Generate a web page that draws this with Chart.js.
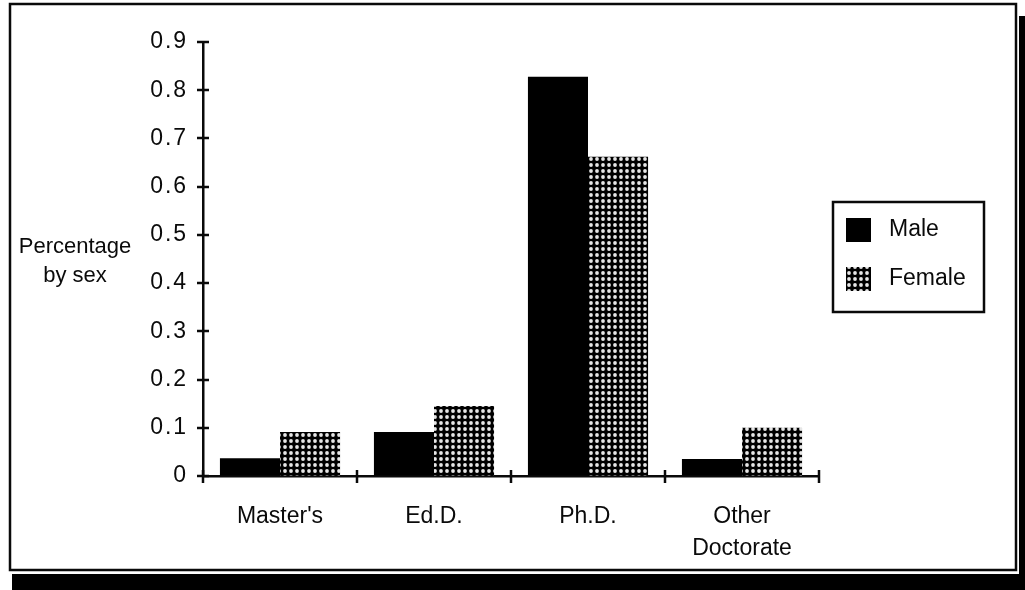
<!DOCTYPE html>
<html>
<head>
<meta charset="utf-8">
<title>Percentage by sex</title>
<script src="https://cdn.jsdelivr.net/npm/chart.js@4.4.1/dist/chart.umd.min.js"></script>
<style>
  html, body { margin: 0; padding: 0; background: #fff; }
  canvas { display: block; }
</style>
</head>
<body>
<canvas id="chart" width="1025" height="590"></canvas>
<script>
// Degree categories and share of each sex holding them
const categories = ["Master's", "Ed.D.", "Ph.D.", ["Other", "Doctorate"]];
const maleValues = [0.037, 0.091, 0.828, 0.035];
const femaleValues = [0.091, 0.145, 0.662, 0.100];
const seriesNames = ["Male", "Female"];
const yTicks = [0, 0.1, 0.2, 0.3, 0.4, 0.5, 0.6, 0.7, 0.8, 0.9];
const yTitle = ["Percentage", "by sex"];

const FONT = '"Liberation Sans", Arial, Helvetica, sans-serif';
const INK = '#0a0a0a';

// Black fill with a grid of light dots for the Female series
function dotPattern() {
  const c = document.createElement('canvas');
  c.width = 6; c.height = 6;
  const g = c.getContext('2d');
  g.fillStyle = '#000';
  g.fillRect(0, 0, 6, 6);
  g.fillStyle = '#e6e6e6';
  g.beginPath();
  g.arc(3, 3, 1.9, 0, Math.PI * 2);
  g.fill();
  return g.createPattern(c, 'repeat');
}

const ctx0 = document.getElementById('chart').getContext('2d');
const femaleFill = dotPattern();

// Frame, drop shadow, crossing tick marks, horizontal axis title and boxed legend
const decorations = {
  id: 'decorations',
  beforeDraw(chart) {
    const c = chart.ctx;
    c.save();
    c.fillStyle = '#fff';
    c.fillRect(0, 0, chart.width, chart.height);
    c.fillStyle = '#000';
    c.fillRect(12, 574, 1013, 16);
    c.fillRect(1019, 16, 6, 574);
    c.strokeStyle = INK;
    c.lineWidth = 2.5;
    c.strokeRect(10, 4, 1006, 566);
    c.restore();
  },
  afterDraw(chart) {
    const c = chart.ctx;
    const x = chart.scales.x, y = chart.scales.y;
    c.save();
    c.strokeStyle = INK;
    c.lineWidth = 2.5;
    // y-axis ticks crossing the axis line
    yTicks.forEach(v => {
      const py = Math.round(y.getPixelForValue(v));
      c.beginPath();
      c.moveTo(x.left - 6, py);
      c.lineTo(x.left + 6, py);
      c.stroke();
    });
    // x-axis ticks at category boundaries
    const n = categories.length;
    for (let i = 0; i <= n; i++) {
      const px = Math.round(x.left + i * (x.right - x.left) / n);
      c.beginPath();
      c.moveTo(px, y.bottom - 6);
      c.lineTo(px, y.bottom + 7);
      c.stroke();
    }
    // axis title, written horizontally
    c.fillStyle = INK;
    c.font = '22px ' + FONT;
    c.textAlign = 'center';
    c.textBaseline = 'alphabetic';
    c.fillText(yTitle[0], 75, 253);
    c.fillText(yTitle[1], 75, 282);
    // legend
    c.lineWidth = 2.5;
    c.strokeRect(833, 202, 151, 110);
    c.font = '23px ' + FONT;
    c.textAlign = 'left';
    c.textBaseline = 'middle';
    chart.data.datasets.forEach((ds, i) => {
      const top = 218 + i * 49;
      c.fillStyle = ds.backgroundColor;
      c.fillRect(846, top, 25, 24);
      c.fillStyle = INK;
      c.fillText(ds.label, 889, top + 12);
    });
    c.restore();
  }
};

new Chart(ctx0, {
  type: 'bar',
  data: {
    labels: categories,
    datasets: [
      { label: seriesNames[0], data: maleValues, backgroundColor: '#000' },
      { label: seriesNames[1], data: femaleValues, backgroundColor: femaleFill }
    ]
  },
  options: {
    responsive: false,
    animation: false,
    devicePixelRatio: 1,
    layout: { padding: { top: 42, right: 206, left: 0, bottom: 0 } },
    datasets: { bar: { categoryPercentage: 0.78, barPercentage: 1.0, borderWidth: 0 } },
    plugins: { legend: { display: false }, tooltip: { enabled: false } },
    scales: {
      x: {
        grid: { display: false, drawTicks: false },
        border: { display: true, color: INK, width: 2.5 },
        ticks: {
          color: INK,
          font: { family: FONT, size: 23, lineHeight: 1.38 },
          padding: 25,
          maxRotation: 0,
          autoSkip: false
        },
        afterFit(scale) { scale.height = 114; }
      },
      y: {
        min: 0,
        max: 0.9,
        grid: { drawOnChartArea: false, drawTicks: false },
        border: { display: true, color: INK, width: 2.5 },
        ticks: {
          stepSize: 0.1,
          color: INK,
          padding: 17,
          font: { family: FONT, size: 23 },
          callback: v => (v === 0 ? '0' : v.toFixed(1).split('').join('\u200A'))
        },
        afterFit(scale) { scale.width = 203; }
      }
    }
  },
  plugins: [decorations]
});
</script>
</body>
</html>
